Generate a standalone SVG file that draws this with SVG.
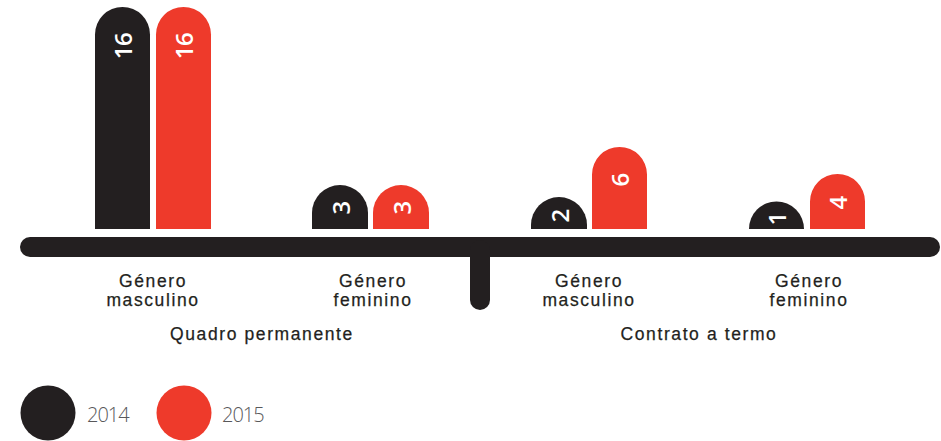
<svg xmlns="http://www.w3.org/2000/svg" width="941" height="441" viewBox="0 0 941 441">
<style>
.k{fill:#231f20}
.r{fill:#ee3a2b}
.v{fill:#fff;font-family:"Open Sans","Liberation Sans",sans-serif;font-weight:600;font-size:24px;letter-spacing:-0.5px;text-anchor:middle;dominant-baseline:central}
.l{fill:#231f20;stroke:#231f20;stroke-width:0.25px;font-family:"Liberation Sans",Arial,sans-serif;font-size:17.5px;letter-spacing:1.6px;text-anchor:middle}
.g{fill:#58585a;font-family:"Open Sans","Liberation Sans",sans-serif;font-weight:300;font-size:20px;letter-spacing:-1px}
</style>
<rect width="941" height="441" fill="#fff"/>
<g id="axis">
<rect class="k" x="20" y="237" width="920" height="20" rx="10"/>
<rect class="k" x="470" y="240" width="20" height="70" rx="10"/>
</g>
<g id="qp-masc-2014"><path class="k" d="M95 229V34.5A27.5 27.5 0 0 1 150 34.5V229Z"/><text class="v" transform="translate(122.5,46) rotate(-90)">16</text></g>
<g id="qp-masc-2015"><path class="r" d="M156 229V34.5A27.5 27.5 0 0 1 211 34.5V229Z"/><text class="v" transform="translate(183.5,46) rotate(-90)">16</text></g>
<g id="qp-fem-2014"><path class="k" d="M312 229V213A28 28 0 0 1 368 213V229Z"/><text class="v" transform="translate(340,208) rotate(-90)">3</text></g>
<g id="qp-fem-2015"><path class="r" d="M373 229V213A28 28 0 0 1 429 213V229Z"/><text class="v" transform="translate(401,208) rotate(-90)">3</text></g>
<g id="ct-masc-2014"><path class="k" d="M531 229V225A28 28 0 0 1 587 225V229Z"/><text class="v" transform="translate(559,216) rotate(-90)">2</text></g>
<g id="ct-masc-2015"><path class="r" d="M592 229V174.5A27.5 27.5 0 0 1 647 174.5V229Z"/><text class="v" transform="translate(619.5,180) rotate(-90)">6</text></g>
<g id="ct-fem-2014"><path class="k" d="M749 229V229A27.5 27.5 0 0 1 804 229Z"/><text class="v" transform="translate(776.5,219) rotate(-90)">1</text></g>
<g id="ct-fem-2015"><path class="r" d="M810 229V201.5A27.5 27.5 0 0 1 865 201.5V229Z"/><text class="v" transform="translate(837.5,203) rotate(-90)">4</text></g>
<g id="labels">
<text class="l" y="286.5"><tspan x="153">Género</tspan><tspan x="153" dy="19.7">masculino</tspan></text>
<text class="l" y="286.5"><tspan x="373">Género</tspan><tspan x="373" dy="19.7">feminino</tspan></text>
<text class="l" y="286.5"><tspan x="589">Género</tspan><tspan x="589" dy="19.7">masculino</tspan></text>
<text class="l" y="286.5"><tspan x="809">Género</tspan><tspan x="809" dy="19.7">feminino</tspan></text>
<text class="l" x="262" y="340">Quadro permanente</text>
<text class="l" x="699" y="340">Contrato a termo</text>
</g>
<g id="legend">
<circle class="k" cx="48" cy="413" r="27.5"/>
<text class="g" x="87" y="422">2014</text>
<circle class="r" cx="184" cy="413" r="27.5"/>
<text class="g" x="222" y="422">2015</text>
</g>
</svg>
